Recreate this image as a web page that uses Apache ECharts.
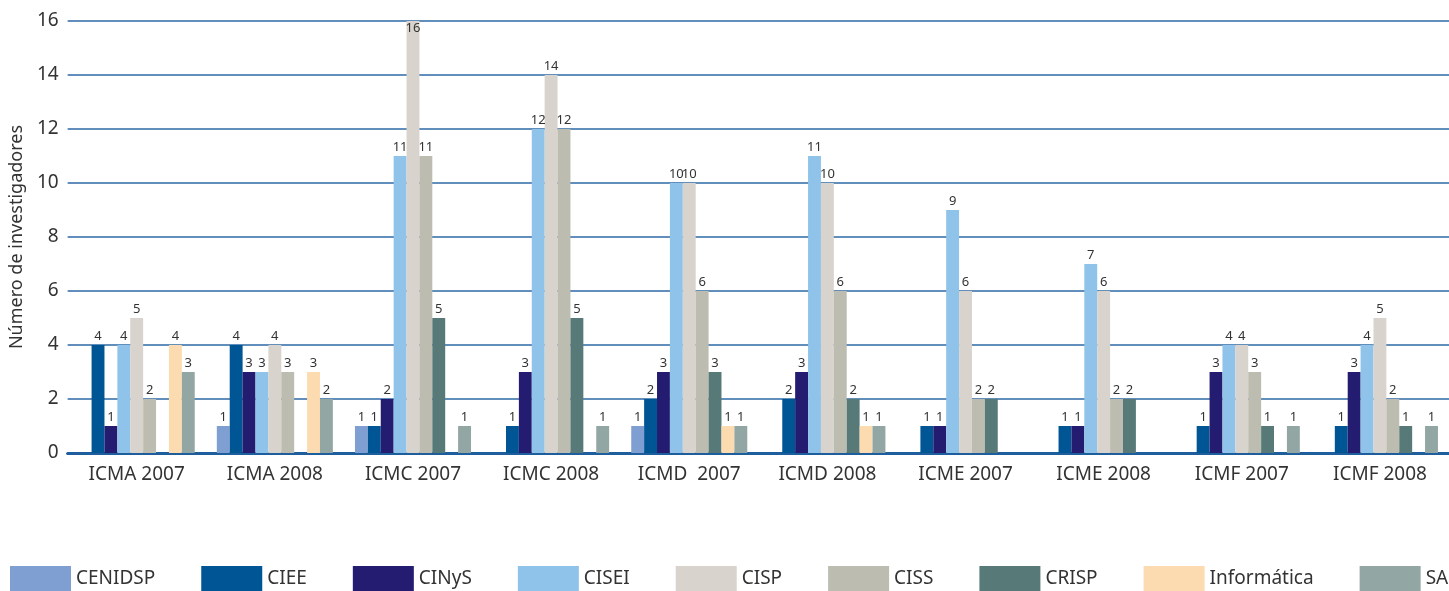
<!DOCTYPE html>
<html>
<head>
<meta charset="utf-8">
<script src="https://cdn.jsdelivr.net/npm/echarts@6/dist/echarts.min.js"></script>
<style>
    html, body { margin: 0; padding: 0; background: #fff; }
    #chart { width: 1449px; height: 591px; }
</style>
</head>
<body>
<div id="chart"></div>
<script>
// categorías (eje x)
var categories = ['ICMA 2007', 'ICMA 2008', 'ICMC 2007', 'ICMC 2008', 'ICMD  2007',
    'ICMD 2008', 'ICME 2007', 'ICME 2008', 'ICMF 2007', 'ICMF 2008'];

// valores por centro (null = sin barra)
var cenidsp = [null, 1, 1, null, 1, null, null, null, null, null];
var ciee = [4, 4, 1, 1, 2, 2, 1, 1, 1, 1];
var cinys = [1, 3, 2, 3, 3, 3, 1, 1, 3, 3];
var cisei = [4, 3, 11, 12, 10, 11, 9, 7, 4, 4];
var cisp = [5, 4, 16, 14, 10, 10, 6, 6, 4, 5];
var ciss = [2, 3, 11, 12, 6, 6, 2, 2, 3, 2];
var crisp = [null, null, 5, 5, 3, 2, 2, 2, 1, 1];
var informatica = [4, 3, null, null, 1, 1, null, null, null, null];
var sa = [3, 2, 1, 1, 1, 1, null, null, 1, 1];

var seriesNames = ['CENIDSP', 'CIEE', 'CINyS', 'CISEI', 'CISP', 'CISS', 'CRISP', 'Informática', 'SA'];
var seriesValues = [cenidsp, ciee, cinys, cisei, cisp, ciss, crisp, informatica, sa];
var colors = ['#7f9ed1', '#005594', '#231c70', '#8fc3e9', '#d9d3cd', '#bcbdb0', '#577978', '#fddbb0', '#92a6a3'];

var yMax = 16;
var font = 'Noto Sans';

var chart = echarts.init(document.getElementById('chart'));

var series = seriesNames.map(function (name, i) {
    return {
        name: name,
        type: 'bar',
        barGap: 0,
        barCategoryGap: '16%',
        itemStyle: { color: colors[i] },
        label: {
            show: true,
            position: 'top',
            distance: 2,
            color: '#333',
            fontFamily: font,
            fontSize: 13
        },
        // la etiqueta del valor máximo queda dentro de la barra
        data: seriesValues[i].map(function (v) {
            if (v === yMax) {
                return { value: v, label: { position: 'insideTop', distance: 1 } };
            }
            return v;
        })
    };
});

var option = {
    animation: false,
    color: colors,
    grid: { left: 66, right: 0, top: 21, bottom: 138 },
    legend: {
        left: 10,
        top: 566,
        width: 1800,
        padding: 0,
        itemWidth: 61,
        itemHeight: 25,
        itemGap: 46,
        icon: 'rect',
        textStyle: { fontFamily: font, fontSize: 19, color: '#333' },
        data: seriesNames
    },
    xAxis: {
        type: 'category',
        data: categories,
        axisLine: { lineStyle: { color: '#1f5e9c', width: 3 } },
        axisTick: { length: 5, lineStyle: { color: '#1f5e9c', width: 1.5 } },
        axisLabel: { fontFamily: font, fontSize: 19, color: '#333', margin: 12 }
    },
    yAxis: {
        type: 'value',
        min: 0,
        max: yMax,
        interval: 2,
        name: 'Número de investigadores',
        nameLocation: 'middle',
        nameGap: 40,
        nameTextStyle: { fontFamily: font, fontSize: 18, color: '#333' },
        axisLine: { show: false },
        axisTick: { show: false },
        axisLabel: { fontFamily: font, fontSize: 19, color: '#333', margin: 9 },
        splitLine: { lineStyle: { color: '#2d68a3', width: 1.5 } }
    },
    series: series
};

chart.setOption(option);
</script>
</body>
</html>
